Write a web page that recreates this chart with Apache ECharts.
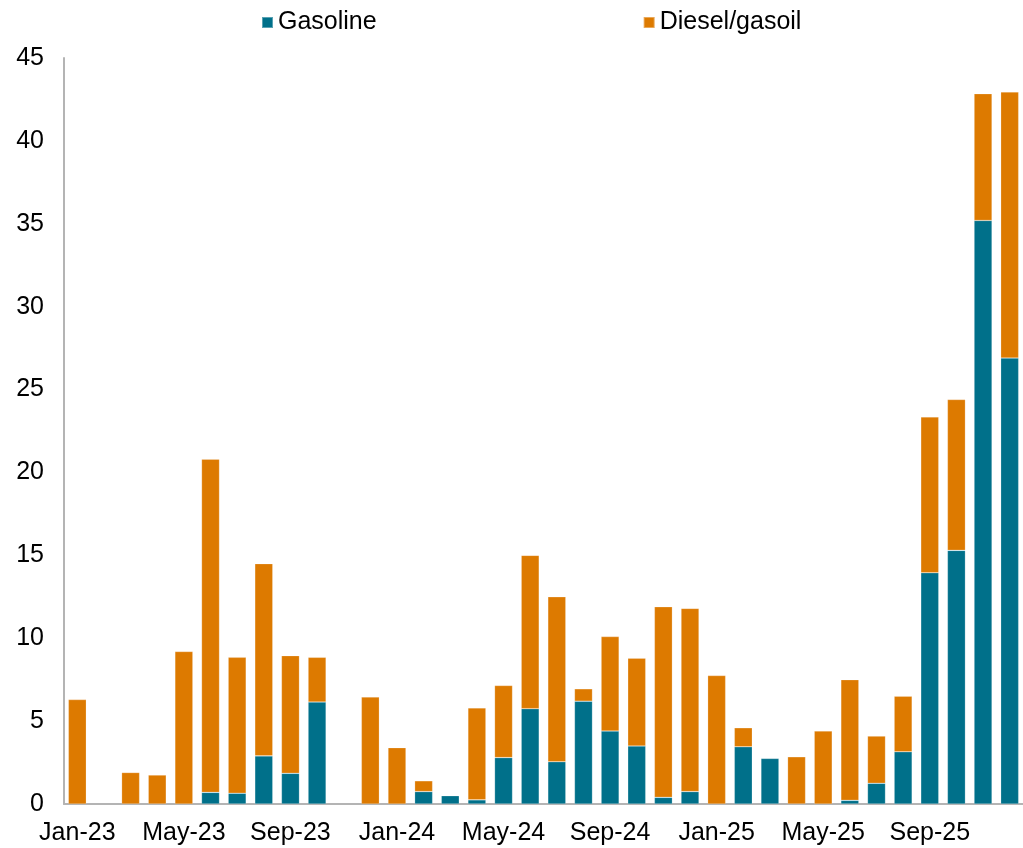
<!DOCTYPE html>
<html>
<head>
<meta charset="utf-8">
<script src="https://cdn.jsdelivr.net/npm/echarts@6/dist/echarts.min.js"></script>
<style>
  html, body { margin: 0; padding: 0; background: #ffffff; }
  #chart { width: 1023px; height: 848px; }
</style>
</head>
<body>
<div id="chart"></div>
<script>
// Monthly volumes, Jan-23 to Dec-25
const months = [
  'Jan-23','Feb-23','Mar-23','Apr-23','May-23','Jun-23','Jul-23','Aug-23','Sep-23','Oct-23','Nov-23','Dec-23',
  'Jan-24','Feb-24','Mar-24','Apr-24','May-24','Jun-24','Jul-24','Aug-24','Sep-24','Oct-24','Nov-24','Dec-24',
  'Jan-25','Feb-25','Mar-25','Apr-25','May-25','Jun-25','Jul-25','Aug-25','Sep-25','Oct-25','Nov-25','Dec-25'
];
const gasoline = [
  0, 0, 0, 0, 0, 0.7, 0.65, 2.9, 1.85, 6.15, 0, 0,
  0, 0.75, 0.5, 0.25, 2.8, 5.75, 2.55, 6.2, 4.4, 3.5, 0.4, 0.75,
  0, 3.45, 2.75, 0, 0, 0.22, 1.25, 3.15, 13.95, 15.3, 35.2, 26.9
];
const diesel = [
  6.3, 0, 1.9, 1.75, 9.2, 20.1, 8.2, 11.6, 7.1, 2.7, 0, 6.45,
  3.4, 0.65, 0, 5.55, 4.35, 9.25, 9.95, 0.75, 5.7, 5.3, 11.5, 11.05,
  7.75, 1.15, 0, 2.85, 4.4, 7.28, 2.85, 3.35, 9.4, 9.1, 7.65, 16.05
];
const yTicks = { min: 0, max: 45, step: 5 };

// Empty months are left out instead of drawn as zero-height bars
const toBars = arr => arr.map(v => (v === 0 ? null : v));

const chart = echarts.init(document.getElementById('chart'), null, { renderer: 'canvas' });
const fontFamily = 'Liberation Sans, Arial, sans-serif';
const axisText = { color: '#000000', fontFamily: fontFamily, fontSize: 25 };

chart.setOption({
  animation: false,
  backgroundColor: '#ffffff',
  legend: {
    top: 5,
    left: 256,
    itemWidth: 11,
    itemHeight: 11,
    itemGap: 266,
    icon: 'rect',
    textStyle: { color: '#000000', fontFamily: fontFamily, fontSize: 25 },
    data: ['Gasoline', 'Diesel/gasoil']
  },
  grid: { left: 64, top: 58, width: 968, height: 746, containLabel: false },
  xAxis: {
    type: 'category',
    data: months,
    axisLine: { lineStyle: { color: '#b4b4b4', width: 2 } },
    axisTick: { show: false },
    axisLabel: Object.assign({ interval: 3, margin: 17 }, axisText)
  },
  yAxis: {
    type: 'value',
    min: yTicks.min,
    max: yTicks.max,
    interval: yTicks.step,
    splitLine: { show: false },
    axisLine: { show: true, lineStyle: { color: '#b4b4b4', width: 2 } },
    axisTick: { show: false },
    axisLabel: Object.assign({ margin: 20 }, axisText)
  },
  series: [
    {
      name: 'Gasoline',
      type: 'bar',
      stack: 'total',
      data: toBars(gasoline),
      barWidth: 18,
      itemStyle: { color: '#00708a', borderColor: 'rgba(255,255,255,0.35)', borderWidth: 0.6 }
    },
    {
      name: 'Diesel/gasoil',
      type: 'bar',
      stack: 'total',
      data: toBars(diesel),
      barWidth: 18,
      itemStyle: { color: '#dd7a00', borderColor: 'rgba(255,255,255,0.35)', borderWidth: 0.6 }
    }
  ]
});
</script>
</body>
</html>
